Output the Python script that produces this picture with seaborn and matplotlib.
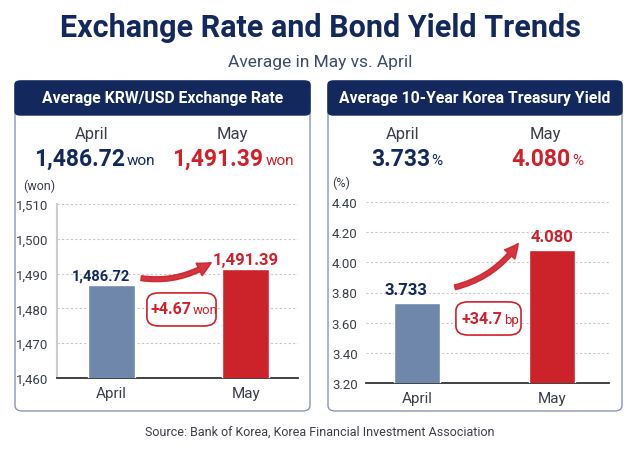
import matplotlib.pyplot as plt
import seaborn as sns
import pandas as pd
from matplotlib.patches import FancyBboxPatch, FancyArrowPatch

# Data
months = ["April", "May"]
krw_usd = [1486.72, 1491.39]
krw_labels = ["1,486.72", "1,491.39"]
krw_ticks = [1460, 1470, 1480, 1490, 1500, 1510]
krw_tick_labels = ["1,460", "1,470", "1,480", "1,490", "1,500", "1,510"]
yield_10y = [3.733, 4.080]
yield_labels = ["3.733", "4.080"]
yield_ticks = [3.20, 3.40, 3.60, 3.80, 4.00, 4.20, 4.40]
yield_tick_labels = ["3.20", "3.40", "3.60", "3.80", "4.00", "4.20", "4.40"]

NAVY = "#13285c"
RED = "#d0202a"
BAR_BLUE = "#6f87ab"
BAR_RED = "#cc232b"
GRAY = "#3a3f4a"

sns.set_theme(style="white")
plt.rcParams["font.family"] = ["Roboto", "DejaVu Sans"]

W, H = 640, 452
fig = plt.figure(figsize=(6.4, 4.52), dpi=100)
fig.patch.set_facecolor("white")


def fx(x):
    return x / W


def fy(y):
    return 1 - y / H


# Title
fig.text(fx(320), fy(28), "Exchange Rate and Bond Yield Trends", ha="center", va="center",
         fontsize=22, fontweight="bold", color=NAVY)
fig.text(fx(320), fy(62), "Average in May vs. April", ha="center", va="center",
         fontsize=12.5, color="#3d4b6b")

# Panels
for x0, x1, title in [(15, 310, "Average KRW/USD Exchange Rate"),
                      (328, 622, "Average 10-Year Korea Treasury Yield")]:
    box = FancyBboxPatch((fx(x0), fy(412)), fx(x1 - x0), (412 - 82) / H,
                         boxstyle="round,pad=0,rounding_size=0.012",
                         transform=fig.transFigure, facecolor="white",
                         edgecolor="#8a96b8", linewidth=1.0, zorder=-2)
    fig.patches.append(box)
    head = FancyBboxPatch((fx(x0), fy(116)), fx(x1 - x0), (116 - 82) / H,
                          boxstyle="round,pad=0,rounding_size=0.008",
                          transform=fig.transFigure, facecolor=NAVY,
                          edgecolor=NAVY, linewidth=1.0, zorder=-1)
    fig.patches.append(head)
    fig.text(fx((x0 + x1) / 2), fy(99), title, ha="center", va="center",
             fontsize=11.3, fontweight="bold", color="white")

# Headline figures
fig.text(fx(92), fy(134), "April", ha="center", va="center", fontsize=12, color=GRAY)
fig.text(fx(232), fy(134), "May", ha="center", va="center", fontsize=12, color=GRAY)
fig.text(fx(125), fy(159), krw_labels[0], ha="right", va="center", fontsize=16.5,
         fontweight="bold", color=NAVY)
fig.text(fx(127), fy(161), "won", ha="left", va="center", fontsize=11, color=NAVY)
fig.text(fx(263), fy(159), krw_labels[1], ha="right", va="center", fontsize=16.5,
         fontweight="bold", color=RED)
fig.text(fx(266), fy(161), "won", ha="left", va="center", fontsize=11, color=RED)

fig.text(fx(403), fy(134), "April", ha="center", va="center", fontsize=12, color=GRAY)
fig.text(fx(545), fy(134), "May", ha="center", va="center", fontsize=12, color=GRAY)
fig.text(fx(430), fy(159), yield_labels[0], ha="right", va="center", fontsize=16.5,
         fontweight="bold", color=NAVY)
fig.text(fx(431), fy(161), "%", ha="left", va="center", fontsize=11, color=NAVY)
fig.text(fx(570), fy(159), yield_labels[1], ha="right", va="center", fontsize=16.5,
         fontweight="bold", color=RED)
fig.text(fx(572), fy(161), "%", ha="left", va="center", fontsize=11, color=RED)


def draw_bars(ax, values, labels, ticks, tick_labels, xlim, width, unit, label_sizes,
              change, change_unit, box_rect, split, arrow_from, arrow_to, label_pad,
              left_spine):
    df = pd.DataFrame({"month": months, "value": values})
    sns.barplot(data=df, x="month", y="value", hue="month",
                palette=[BAR_BLUE, BAR_RED], width=width, legend=False,
                ax=ax, zorder=3, saturation=1)
    ax.set_ylim(ticks[0], ticks[-1])
    ax.set_xlim(*xlim)
    ax.set_yticks(ticks)
    ax.set_yticklabels(tick_labels, fontsize=9.5, color=GRAY)
    ax.tick_params(axis="y", length=0, pad=6)
    ax.tick_params(axis="x", length=0, pad=6, labelsize=11, labelcolor=GRAY)
    ax.set_xlabel("")
    ax.set_ylabel("")
    for t in ticks[1:]:
        ax.axhline(t, color="#c8c8c8", linestyle=(0, (2, 2)), linewidth=0.8, zorder=1)
    for s in ["top", "right"]:
        ax.spines[s].set_visible(False)
    ax.spines["bottom"].set_color("#333333")
    ax.spines["bottom"].set_linewidth(1.3)
    ax.spines["left"].set_visible(left_spine)
    ax.spines["left"].set_color("#cccccc")
    ax.spines["left"].set_linewidth(1.5)
    ax.set_facecolor("none")
    ax.text(-0.14, 1.11, unit, transform=ax.transAxes,
            ha="left", va="center", fontsize=9, color=GRAY)
    for i, (v, lab) in enumerate(zip(values, labels)):
        ax.text(i - 0.08 if i == 0 else i, v + label_pad, lab, ha="center",
                va="bottom", fontsize=label_sizes[i], fontweight="bold",
                color=NAVY if i == 0 else RED, zorder=5)

    # change badge
    bx0, by0, bx1, by1 = box_rect
    badge = FancyBboxPatch((bx0, by0), bx1 - bx0, by1 - by0,
                           boxstyle="round,pad=0,rounding_size=0.05",
                           transform=ax.transAxes, facecolor="white",
                           edgecolor=RED, linewidth=1.2, zorder=6)
    ax.add_patch(badge)
    ax.text(split[0], split[1], change, transform=ax.transAxes, ha="right",
            va="center", fontsize=11.5, fontweight="bold", color=RED, zorder=7)
    ax.text(split[0] + 0.005, split[1] - 0.005, change_unit, transform=ax.transAxes,
            ha="left", va="center", fontsize=9.5, color=RED, zorder=7)

    arrow = FancyArrowPatch(arrow_from, arrow_to, connectionstyle="arc3,rad=0.2",
                            arrowstyle="simple,head_width=10,head_length=10,tail_width=3.5",
                            color=RED, alpha=0.9, zorder=4, mutation_scale=1)
    ax.add_patch(arrow)


ax1 = fig.add_axes([fx(57), fy(379), fx(298 - 57), (379 - 205) / H])
draw_bars(ax1, krw_usd, krw_labels, krw_ticks, krw_tick_labels,
          (-0.407, 1.39), 0.35, "(won)", (10.5, 12),
          "+4.67", "won", (0.373, 0.299, 0.66, 0.489), (0.558, 0.397),
          (0.2, 1488.8), (0.76, 1493.6), 0.6, True)

ax2 = fig.add_axes([fx(366), fy(384), fx(609 - 366), (384 - 203) / H])
draw_bars(ax2, yield_10y, yield_labels, yield_ticks, yield_tick_labels,
          (-0.378, 1.42), 0.34, "(%)", (12, 12),
          "+34.7", "bp", (0.370, 0.265, 0.638, 0.448), (0.562, 0.354),
          (0.26, 3.83), (0.76, 4.14), 0.04, False)

fig.text(fx(320), fy(432), "Source: Bank of Korea, Korea Financial Investment Association",
         ha="center", va="center", fontsize=9, color=GRAY)

plt.savefig("out.png", dpi=100)
plt.close()
